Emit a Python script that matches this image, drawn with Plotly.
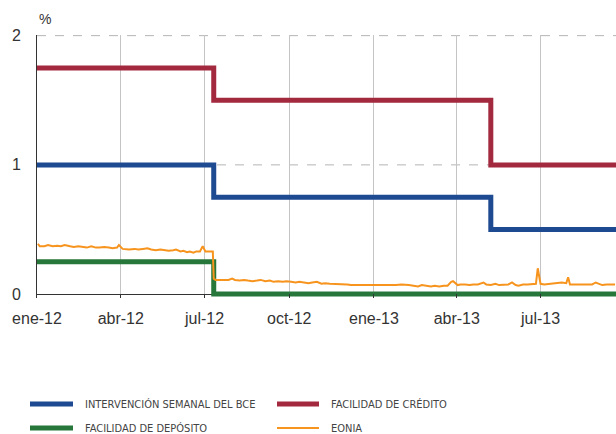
import plotly.graph_objects as go

# ---- Data ----
rate_dates = ["2012-01-01", "2012-07-11", "2013-05-08", "2013-09-21"]
intervencion = [1.0, 0.75, 0.5, 0.5]
credito = [1.75, 1.5, 1.0, 1.0]
deposito = [0.25, 0.0, 0.0, 0.0]

eonia_dates = [
    "2012-01-02", "2012-01-04", "2012-01-09", "2012-01-13", "2012-01-18", "2012-01-23", "2012-01-27", "2012-01-31",
    "2012-02-06", "2012-02-10", "2012-02-15", "2012-02-20", "2012-02-24", "2012-02-29",
    "2012-03-05", "2012-03-09", "2012-03-14", "2012-03-19", "2012-03-23", "2012-03-28", "2012-03-30",
    "2012-04-03", "2012-04-10", "2012-04-16", "2012-04-20", "2012-04-25", "2012-04-30",
    "2012-05-04", "2012-05-09", "2012-05-14", "2012-05-18", "2012-05-23", "2012-05-28", "2012-05-31",
    "2012-06-05", "2012-06-08", "2012-06-12", "2012-06-15", "2012-06-19", "2012-06-22", "2012-06-26", "2012-06-29",
    "2012-07-02", "2012-07-06", "2012-07-10", "2012-07-11", "2012-07-13", "2012-07-18", "2012-07-23", "2012-07-27", "2012-07-31",
    "2012-08-03", "2012-08-08", "2012-08-13", "2012-08-17", "2012-08-22", "2012-08-27", "2012-08-31",
    "2012-09-05", "2012-09-10", "2012-09-14", "2012-09-19", "2012-09-24", "2012-09-28",
    "2012-10-03", "2012-10-08", "2012-10-12", "2012-10-17", "2012-10-22", "2012-10-26", "2012-10-31",
    "2012-11-05", "2012-11-09", "2012-11-14", "2012-11-19", "2012-11-23", "2012-11-28",
    "2012-12-03", "2012-12-07", "2012-12-12", "2012-12-17", "2012-12-21", "2012-12-28",
    "2013-01-02", "2013-01-07", "2013-01-11", "2013-01-16", "2013-01-21", "2013-01-25", "2013-01-31",
    "2013-02-04", "2013-02-08", "2013-02-13", "2013-02-18", "2013-02-22", "2013-02-27",
    "2013-03-04", "2013-03-08", "2013-03-13", "2013-03-18", "2013-03-22", "2013-03-26", "2013-03-28",
    "2013-04-02", "2013-04-05", "2013-04-10", "2013-04-15", "2013-04-19", "2013-04-24", "2013-04-30",
    "2013-05-03", "2013-05-08", "2013-05-13", "2013-05-17", "2013-05-22", "2013-05-27", "2013-05-31",
    "2013-06-04", "2013-06-07", "2013-06-12", "2013-06-17", "2013-06-21", "2013-06-26", "2013-06-28",
    "2013-07-01", "2013-07-05", "2013-07-10", "2013-07-15", "2013-07-19", "2013-07-24", "2013-07-29", "2013-07-31",
    "2013-08-02", "2013-08-07", "2013-08-12", "2013-08-16", "2013-08-21", "2013-08-26", "2013-08-30",
    "2013-09-03", "2013-09-06", "2013-09-11", "2013-09-16", "2013-09-20",
]
eonia_values = [
    0.39, 0.37, 0.37, 0.38, 0.37, 0.375, 0.37, 0.38,
    0.37, 0.365, 0.37, 0.365, 0.36, 0.37,
    0.36, 0.36, 0.365, 0.36, 0.355, 0.36, 0.38,
    0.35, 0.345, 0.35, 0.345, 0.35, 0.355,
    0.345, 0.34, 0.345, 0.34, 0.335, 0.34, 0.345,
    0.33, 0.335, 0.325, 0.33, 0.32, 0.33, 0.33, 0.37,
    0.33, 0.33, 0.33, 0.12, 0.11, 0.11, 0.11, 0.11, 0.12,
    0.11, 0.105, 0.11, 0.105, 0.10, 0.105, 0.11,
    0.10, 0.105, 0.095, 0.10, 0.095, 0.10,
    0.095, 0.09, 0.095, 0.09, 0.085, 0.09, 0.095,
    0.08, 0.085, 0.08, 0.08, 0.075, 0.08,
    0.075, 0.07, 0.07, 0.07, 0.065, 0.07,
    0.065, 0.065, 0.07, 0.07, 0.07, 0.07, 0.075,
    0.07, 0.07, 0.065, 0.06, 0.07, 0.065,
    0.06, 0.065, 0.06, 0.065, 0.065, 0.095, 0.10,
    0.07, 0.075, 0.075, 0.07, 0.075, 0.075, 0.09,
    0.075, 0.07, 0.08, 0.07, 0.075, 0.075, 0.09,
    0.07, 0.065, 0.075, 0.075, 0.075, 0.08, 0.20,
    0.08, 0.075, 0.08, 0.085, 0.09, 0.09, 0.085, 0.13,
    0.075, 0.075, 0.075, 0.075, 0.075, 0.075, 0.09,
    0.075, 0.07, 0.075, 0.075, 0.075,
]

tick_dates = ["2012-01-01", "2012-04-01", "2012-07-01", "2012-10-01",
              "2013-01-01", "2013-04-01", "2013-07-01"]
tick_labels = ["ene-12", "abr-12", "jul-12", "oct-12", "ene-13", "abr-13", "jul-13"]
x_range = ["2012-01-01", "2013-09-21"]
y_ticks = [0, 1, 2]
y_range = [-0.03, 2.005]

series_names = ["INTERVENCIÓN SEMANAL DEL BCE", "FACILIDAD DE CRÉDITO",
                "FACILIDAD DE DEPÓSITO", "EONIA"]

# ---- Styles ----
BLUE = "#1d4a91"
RED = "#a3293f"
GREEN = "#27773a"
ORANGE = "#f7941e"
GRID = "#c4c4c4"
HGRID = "#b4b4b4"
colors = [BLUE, RED, GREEN, ORANGE]
widths = [5, 5, 5, 2]

fig = go.Figure()
fig.add_trace(go.Scatter(x=rate_dates, y=intervencion, mode="lines", line_shape="hv",
                         line=dict(color=BLUE, width=5), name=series_names[0]))
fig.add_trace(go.Scatter(x=rate_dates, y=credito, mode="lines", line_shape="hv",
                         line=dict(color=RED, width=5), name=series_names[1]))
fig.add_trace(go.Scatter(x=rate_dates, y=deposito, mode="lines", line_shape="hv",
                         line=dict(color=GREEN, width=5), name=series_names[2]))
fig.add_trace(go.Scatter(x=eonia_dates, y=eonia_values, mode="lines",
                         line=dict(color=ORANGE, width=2), name=series_names[3]))

# ---- Manual legend (paper coordinates) ----
L, T, W, H = 37, 35, 579, 263  # plot area in px


def px_x(px):
    return (px - L) / W


def px_y(py):
    return (T + H - py) / H


# dashed horizontal gridlines for the non-zero ticks
shapes = [dict(type="line", xref="paper", yref="y", x0=0, x1=1, y0=v, y1=v,
               layer="below", line=dict(color=HGRID, width=1, dash="dash"))
          for v in y_ticks if v != 0]
annotations = []
slots = [(0, 404, 30, 73, 83), (2, 428, 30, 73, 83),
         (1, 404, 277, 319, 329), (3, 428, 277, 319, 329)]
for idx, row_y, x0, x1, xt in slots:
    shapes.append(dict(type="line", xref="paper", yref="paper",
                       x0=px_x(x0), x1=px_x(x1), y0=px_y(row_y), y1=px_y(row_y),
                       line=dict(color=colors[idx], width=widths[idx])))
    annotations.append(dict(text=series_names[idx], xref="paper", yref="paper",
                            x=px_x(xt), y=px_y(row_y), xanchor="left", yanchor="middle",
                            showarrow=False,
                            font=dict(family="DejaVu Sans Condensed, Liberation Sans, sans-serif",
                                      size=11, color="#444444")))

annotations.append(dict(text="%", xref="paper", yref="paper", x=0.0, y=px_y(19),
                        xanchor="left", yanchor="middle", showarrow=False,
                        font=dict(size=14, color="#333333")))

fig.update_layout(
    width=616, height=434,
    margin=dict(l=L, r=616 - L - W, t=T, b=434 - T - H),
    paper_bgcolor="white", plot_bgcolor="white",
    font=dict(family="Liberation Sans, Arial, sans-serif", color="#333333", size=15),
    showlegend=False,
    xaxis=dict(type="date", range=x_range, tickvals=tick_dates, ticktext=tick_labels,
               showgrid=True, gridcolor=GRID, gridwidth=1,
               showline=False, zeroline=False, ticks="inside", ticklen=4,
               tickcolor="#333333", tickfont=dict(size=16, color="#333333"),
               ticklabelstandoff=9, automargin=False),
    yaxis=dict(range=y_range, tickvals=y_ticks, ticktext=[str(v) for v in y_ticks],
               showgrid=False,
               zeroline=True, zerolinecolor="#333333", zerolinewidth=1,
               showline=True, linecolor="#333333", linewidth=1,
               ticks="", ticklabelstandoff=12, tickfont=dict(size=16, color="#333333"),
               automargin=False),
    shapes=shapes,
    annotations=annotations,
)

fig.write_html("out.html", config={"displayModeBar": False},
               post_script="document.body.style.margin='0';document.body.style.overflow='hidden';")
